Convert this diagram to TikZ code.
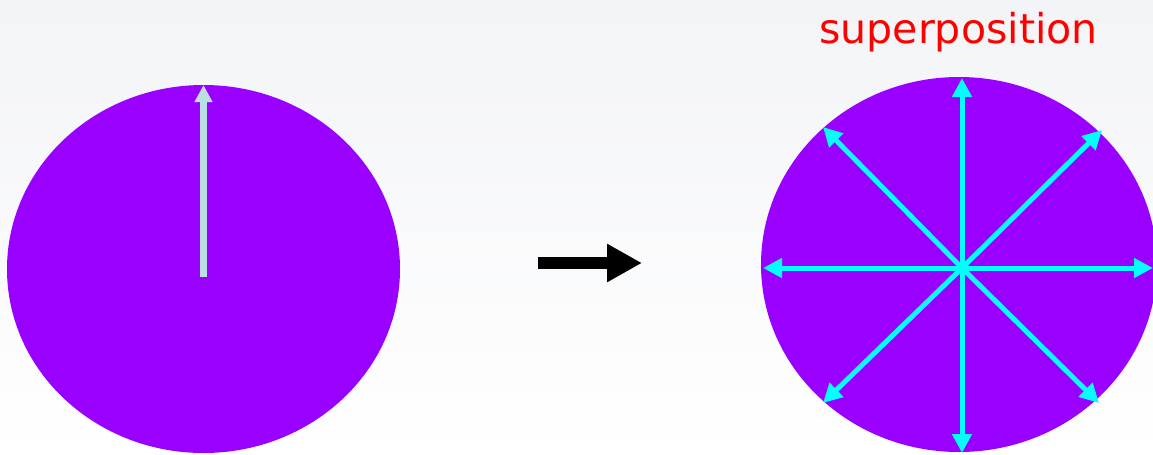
\documentclass[tikz,border=0pt]{standalone}
\usepackage{fontspec}
\newfontfamily\labelfont{DejaVu Sans}
\usetikzlibrary{arrows.meta}
\definecolor{BlochPurple}{RGB}{153,0,255}
\definecolor{StateCyan}{RGB}{0,255,255}
\definecolor{PaleBlue}{RGB}{187,224,228}
\definecolor{BgTop}{RGB}{243,244,247}
\definecolor{LabelRed}{RGB}{255,0,0}
\tikzset{
  sphere/.style={fill=BlochPurple,draw=none},
  statearrow/.style={-{Triangle[length=0.38cm,width=0.38cm]},line width=0.1cm,draw=StateCyan},
  basisarrow/.style={-{Triangle[length=0.34cm,width=0.34cm]},line width=0.13cm,draw=PaleBlue},
  steparrow/.style={-{Triangle[length=0.7cm,width=0.72cm]},line width=0.24cm,draw=black},
  toplabel/.style={font=\labelfont\fontsize{23.4}{28}\selectfont,text=LabelRed,anchor=base,inner sep=0pt}
}

\begin{document}
\begin{tikzpicture}[x=0.02cm,y=-0.02cm]
\useasboundingbox (0,0) rectangle (1153,454);
\clip (0,0) rectangle (1153,454);
\shade[top color=BgTop,bottom color=white] (0,0) rectangle (1153,454);
% single state
\fill[sphere] (203.5,269) ellipse [x radius=196.5,y radius=184];
\coordinate (s0) at (203.5,277);
\coordinate (s1) at (203.5,85);
\draw[basisarrow] (s0) -- (s1);
% step arrow
\coordinate (a0) at (538,263);
\coordinate (a1) at (642,263);
\draw[steparrow] (a0) -- (a1);
% superposition
\fill[sphere] (959,264.5) ellipse [x radius=198,y radius=187.5];
\coordinate (c) at (962,268);
\foreach \n/\x/\y in {n/962/78,s/962/453,w/763/268,e/1153/268,
                      nw/823/127,ne/1102/130,sw/823/403,se/1099/403}{
  \coordinate (t\n) at (\x,\y);
  \draw[statearrow] (c) -- (t\n);
}
\node[toplabel] (sup) at (958.5,43) {superposition};
\end{tikzpicture}
\end{document}
